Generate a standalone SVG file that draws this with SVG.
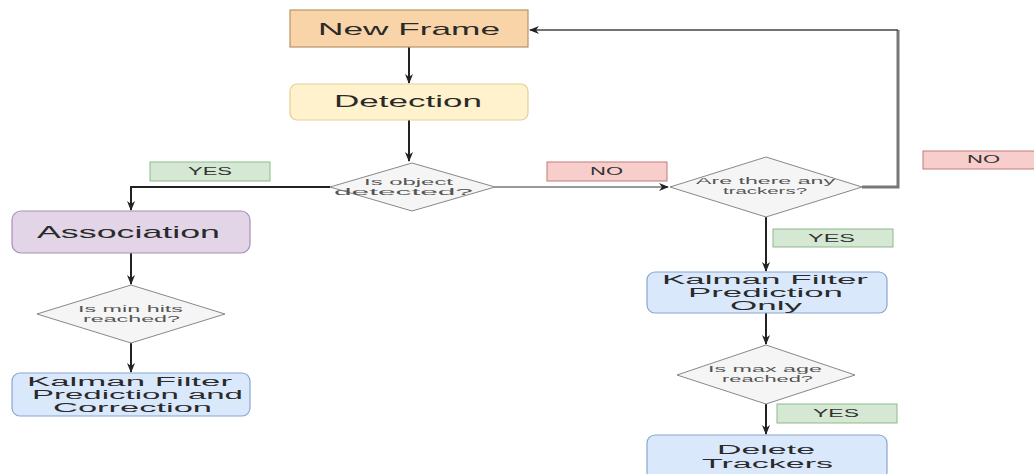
<svg xmlns="http://www.w3.org/2000/svg" width="1034" height="474" viewBox="0 0 1034 474">
<defs>
<marker id="ah" markerWidth="10" markerHeight="10" refX="9" refY="5" orient="auto" markerUnits="userSpaceOnUse">
<path d="M0,1 L10,5 L0,9 L3,5 Z" fill="#222"/>
</marker>
</defs>
<style>
text{font-family:"Liberation Sans",Arial,sans-serif;fill:#2a2a2a;text-anchor:start}
.big{font-size:17px}
.mid{font-size:12.5px}
.sm{font-size:9px;fill:#555}
.lab{font-size:10px;fill:#333}
.conn{fill:none;stroke:#222;stroke-width:2}
.dia{fill:#f5f5f5;stroke:#888;stroke-width:1}
.blue{fill:#dae8fc;stroke:#8aa6cf;stroke-width:1.2}
.yes{fill:#d5e8d4;stroke:#8fb98a;stroke-width:1}
.no{fill:#f8cecc;stroke:#c07a78;stroke-width:1}
</style>
<rect width="1034" height="474" fill="#fff"/>
<g id="connectors">
<line class="conn" x1="409" y1="47" x2="409" y2="83" marker-end="url(#ah)"/>
<line class="conn" x1="409" y1="120" x2="409" y2="161" marker-end="url(#ah)"/>
<polyline class="conn" points="330,187 131,187 131,210" marker-end="url(#ah)"/>
<line class="conn" x1="131" y1="253" x2="131" y2="284" marker-end="url(#ah)"/>
<line class="conn" x1="131" y1="343" x2="131" y2="372" marker-end="url(#ah)"/>
<line x1="495" y1="187" x2="668" y2="187" stroke="#777" stroke-width="1.5" marker-end="url(#ah)"/>
<polyline points="862,187 898,187 898,30" fill="none" stroke="#777" stroke-width="3"/>
<line x1="898" y1="30" x2="530" y2="30" stroke="#444" stroke-width="1.3" marker-end="url(#ah)"/>
<line class="conn" x1="766" y1="217" x2="766" y2="271" marker-end="url(#ah)"/>
<line class="conn" x1="766" y1="313" x2="766" y2="344" marker-end="url(#ah)"/>
<line class="conn" x1="766" y1="404" x2="766" y2="434" marker-end="url(#ah)"/>
</g>
<g id="newframe">
<rect x="290" y="10" width="238" height="37" fill="#f9d4a8" stroke="#b89366" stroke-width="1.2"/>
<text class="big" x="318" y="35" textLength="182" lengthAdjust="spacingAndGlyphs">New Frame</text>
</g>
<g id="detection">
<rect x="290" y="84" width="238" height="36" rx="7" fill="#fff2cc" stroke="#e3cf95" stroke-width="1.2"/>
<text class="big" x="334" y="107" textLength="148" lengthAdjust="spacingAndGlyphs">Detection</text>
</g>
<g id="isdetected">
<polygon class="dia" points="330,187 412,163 495,187 412,211"/>
<text class="sm" x="364" y="185" textLength="89" lengthAdjust="spacingAndGlyphs">Is object</text>
<text class="sm" x="334" y="195" textLength="139" lengthAdjust="spacingAndGlyphs">detected?</text>
</g>
<g id="yes1">
<rect class="yes" x="150" y="162" width="120" height="19"/>
<text class="lab" x="188" y="175" textLength="44" lengthAdjust="spacingAndGlyphs">YES</text>
</g>
<g id="association">
<rect x="12" y="211" width="238" height="42" rx="9" fill="#e1d5e7" stroke="#a98fb8" stroke-width="1.2"/>
<text class="big" x="37" y="238" textLength="183" lengthAdjust="spacingAndGlyphs">Association</text>
</g>
<g id="minhits">
<polygon class="dia" points="37,314 131,285 225,314 131,343"/>
<text class="sm" x="78" y="312" textLength="105" lengthAdjust="spacingAndGlyphs">Is min hits</text>
<text class="sm" x="83" y="322" textLength="97" lengthAdjust="spacingAndGlyphs">reached?</text>
</g>
<g id="kalmancorr">
<rect class="blue" x="12" y="373" width="238" height="43" rx="8"/>
<text class="mid" x="27" y="386" textLength="205" lengthAdjust="spacingAndGlyphs">Kalman Filter</text>
<text class="mid" x="32" y="399" textLength="211" lengthAdjust="spacingAndGlyphs">Prediction and</text>
<text class="mid" x="53" y="412" textLength="159" lengthAdjust="spacingAndGlyphs">Correction</text>
</g>
<g id="no1">
<rect class="no" x="547" y="162" width="120" height="19"/>
<text class="lab" x="590" y="175" textLength="33" lengthAdjust="spacingAndGlyphs">NO</text>
</g>
<g id="trackers">
<polygon class="dia" points="670,187 766,157 862,187 766,217"/>
<text class="sm" x="696" y="184" textLength="139" lengthAdjust="spacingAndGlyphs">Are there any</text>
<text class="sm" x="723" y="194" textLength="84" lengthAdjust="spacingAndGlyphs">trackers?</text>
</g>
<g id="no2">
<rect class="no" x="923" y="151" width="120" height="18"/>
<text class="lab" x="967" y="163" textLength="33" lengthAdjust="spacingAndGlyphs">NO</text>
</g>
<g id="yes2">
<rect class="yes" x="773" y="229" width="120" height="18"/>
<text class="lab" x="808" y="242" textLength="47" lengthAdjust="spacingAndGlyphs">YES</text>
</g>
<g id="kalmanpred">
<rect class="blue" x="647" y="272" width="240" height="41" rx="8"/>
<text class="mid" x="662" y="284" textLength="206" lengthAdjust="spacingAndGlyphs">Kalman Filter</text>
<text class="mid" x="688" y="297" textLength="155" lengthAdjust="spacingAndGlyphs">Prediction</text>
<text class="mid" x="730" y="310" textLength="72" lengthAdjust="spacingAndGlyphs">Only</text>
</g>
<g id="maxage">
<polygon class="dia" points="677,375 766,345 855,375 766,404"/>
<text class="sm" x="708" y="372" textLength="114" lengthAdjust="spacingAndGlyphs">Is max age</text>
<text class="sm" x="722" y="382" textLength="91" lengthAdjust="spacingAndGlyphs">reached?</text>
</g>
<g id="yes3">
<rect class="yes" x="777" y="404" width="120" height="19"/>
<text class="lab" x="813" y="417" textLength="46" lengthAdjust="spacingAndGlyphs">YES</text>
</g>
<g id="delete">
<rect class="blue" x="647" y="435" width="240" height="45" rx="8"/>
<text class="mid" x="717" y="454" textLength="98" lengthAdjust="spacingAndGlyphs">Delete</text>
<text class="mid" x="702" y="468" textLength="131" lengthAdjust="spacingAndGlyphs">Trackers</text>
</g>
</svg>
